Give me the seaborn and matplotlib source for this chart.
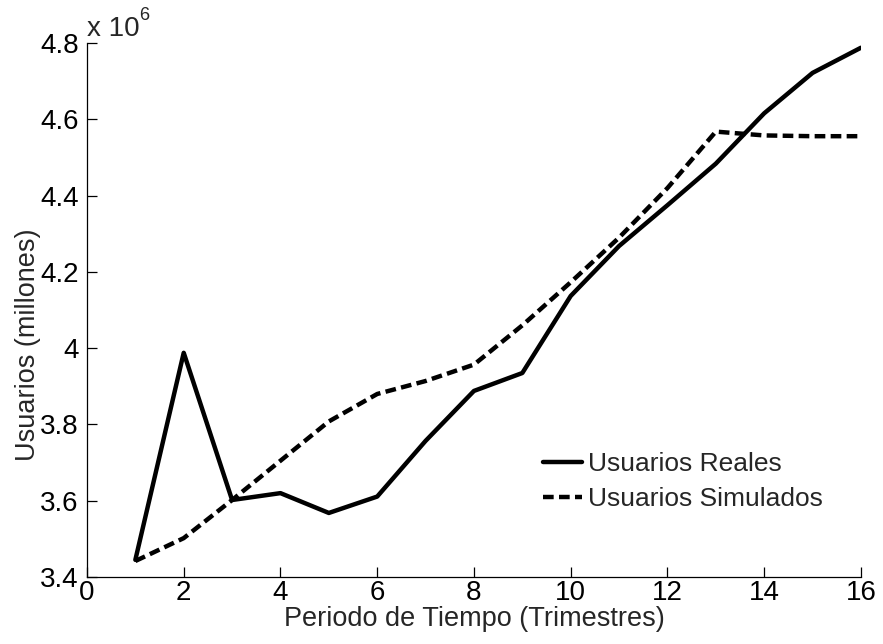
import numpy as np
import pandas as pd
import matplotlib
matplotlib.use("Agg")
import matplotlib.pyplot as plt
from matplotlib.ticker import FuncFormatter, MultipleLocator
import seaborn as sns

# Quarterly users: actual vs. simulated
trimestres = [1, 2, 3, 4, 5, 6, 7, 8, 9, 10, 11, 12, 13, 14, 15, 16]
usuarios_reales = [3.445e6, 3.988e6, 3.602e6, 3.620e6, 3.568e6, 3.611e6,
                   3.757e6, 3.888e6, 3.935e6, 4.137e6, 4.268e6, 4.375e6,
                   4.484e6, 4.616e6, 4.722e6, 4.788e6]
usuarios_simulados = [3.442e6, 3.502e6, 3.602e6, 3.705e6, 3.808e6, 3.880e6,
                      3.914e6, 3.957e6, 4.060e6, 4.173e6, 4.290e6, 4.420e6,
                      4.568e6, 4.558e6, 4.556e6, 4.556e6]
series_names = ["Usuarios Reales", "Usuarios Simulados"]

df = pd.DataFrame({
    "t": trimestres * 2,
    "u": usuarios_reales + usuarios_simulados,
    "serie": [series_names[0]] * len(trimestres) + [series_names[1]] * len(trimestres),
})

sns.set_style("ticks")
plt.rcParams["font.family"] = ["Liberation Sans", "DejaVu Sans"]

fig = plt.figure(figsize=(8.83, 6.44), dpi=100)
ax = fig.add_axes([0.0985, 0.104, 0.8765, 0.829])

sns.lineplot(data=df, x="t", y="u", style="serie", color="black",
             dashes={series_names[0]: "", series_names[1]: (2.4, 1.2)},
             linewidth=3.2, ax=ax, legend=True)
for ln in ax.get_lines():
    ln.set_dash_capstyle("butt")

ax.set_xlim(0, 16)
ax.set_ylim(3.4e6, 4.8e6)
ax.xaxis.set_major_locator(MultipleLocator(2))
ax.yaxis.set_major_locator(MultipleLocator(0.2e6))
ax.yaxis.set_major_formatter(FuncFormatter(lambda v, p: f"{v / 1e6:g}"))
ax.yaxis.get_offset_text().set_visible(False)

ax.tick_params(direction="in", length=7, width=0.9, labelsize=20,
               colors="black")
ax.tick_params(axis="x", pad=2.5)
ax.tick_params(axis="y", pad=6)
for s in ("left", "bottom"):
    ax.spines[s].set_linewidth(0.9)
    ax.spines[s].set_color("black")
sns.despine(ax=ax)

ax.set_xlabel("Periodo de Tiempo (Trimestres)", fontsize=19.5, labelpad=0)
ax.set_ylabel("Usuarios (millones)", fontsize=19.5)
ax.yaxis.set_label_coords(-0.06, 0.435)

# MATLAB-style exponent marker above the y axis
ax.text(0.0, 1.013, "x 10", transform=ax.transAxes, fontsize=20,
        ha="left", va="baseline")
ax.text(0.067, 1.043, "6", transform=ax.transAxes, fontsize=13,
        ha="left", va="baseline")

handles, labels = ax.get_legend_handles_labels()
ax.legend(handles, labels, loc="upper left", bbox_to_anchor=(0.615, 0.298),
          bbox_transform=fig.transFigure, frameon=False, fontsize=19,
          handlelength=1.48, handletextpad=0.23, labelspacing=0.43,
          borderpad=0, borderaxespad=0)

fig.savefig("out.png", dpi=100, facecolor="white")
